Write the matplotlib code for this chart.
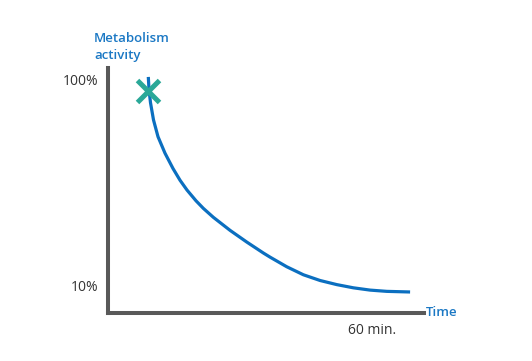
import matplotlib.pyplot as plt

# values (time in minutes, activity in %)
time_min = [9.16, 9.32, 9.66, 10.34, 11.36, 12.95, 14.77, 16.36, 17.95, 20.0,
            21.66, 23.93, 27.73, 31.52, 35.30, 36.82, 40.61, 44.39, 48.18,
            51.98, 55.75, 59.55, 63.34, 68.64]
activity = [101.3, 95.6, 90.0, 82.5, 75.2, 68.0, 61.3, 56.2, 51.9, 47.2,
            43.9, 40.0, 34.3, 29.2, 24.4, 22.6, 18.4, 14.9, 12.4,
            10.6, 9.2, 8.2, 7.65, 7.38]
start_time = 9.16
start_activity = 95.2

y_ticks = [10, 100]
y_tick_labels = ["10%", "100%"]
x_ticks = [60]
x_tick_labels = ["60 min."]

plt.rcParams["font.family"] = ["Open Sans", "DejaVu Sans"]

blue = "#0b6fc0"
label_blue = "#1b78c4"
axis_gray = "#595959"

fig = plt.figure(figsize=(5.32, 3.61), dpi=100)
ax = fig.add_axes([108 / 532, 48 / 361, 316 / 532, 245 / 361])

# the decay curve
ax.plot(time_min, activity, color=blue, linewidth=2.3,
        solid_capstyle="butt", solid_joinstyle="round")
# the starting point cross
ax.plot(start_time, start_activity, marker="x", markersize=16,
        markeredgewidth=3.6, color="#2aa898", zorder=5)

ax.set_xlim(0, 71.8)
ax.set_ylim(-1.8, 105.2)

for side in ["top", "right"]:
    ax.spines[side].set_visible(False)
for side in ["left", "bottom"]:
    ax.spines[side].set_color(axis_gray)
    ax.spines[side].set_linewidth(2.9)
    ax.spines[side].set_capstyle("projecting")

ax.set_yticks(y_ticks)
ax.set_yticklabels(y_tick_labels)
ax.set_xticks(x_ticks)
ax.set_xticklabels(x_tick_labels)
ax.tick_params(length=0, labelsize=10, labelcolor="#333333")
ax.tick_params(axis="y", pad=7)
ax.tick_params(axis="x", pad=7)

# axis titles
fig.text(94 / 532, 1 - 62 / 361, "Metabolism\nactivity", color=label_blue,
         fontsize=9.5, fontweight="semibold", ha="left", va="bottom",
         linespacing=1.45)
fig.text(426 / 532, 1 - 313 / 361, "Time", color=label_blue, fontsize=9.5,
         fontweight="semibold", ha="left", va="center")

fig.savefig("out.png", dpi=100)
